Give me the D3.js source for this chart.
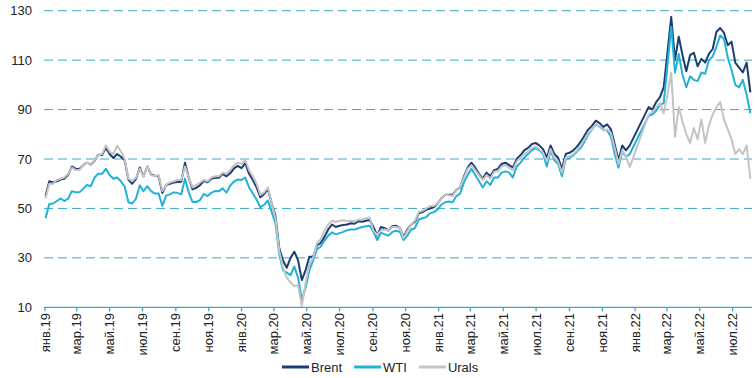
<!DOCTYPE html>
<html><head><meta charset="utf-8">
<script src="https://cdn.jsdelivr.net/npm/d3@7"></script>
<style>
body{margin:0;background:#fff}
svg{display:block}
text{font-family:"Liberation Sans",Arial,sans-serif}
</style>
</head><body><svg id="c" width="756" height="378"></svg>
<script>
// weekly observations starting from this date (null = no data)
const startDate = "2019-01-02";

const brent = [
55, 61, 60.5, 61, 61.7, 62, 63.6, 67, 66, 66,
67.5, 68.5, 67.8, 69.3, 71.7, 71.6, 74.5, 72, 70.4, 72,
70.9, 69.5, 61.6, 60, 62, 66.5, 63, 67, 63.7, 63.2,
63, 56.2, 59.5, 60, 60.5, 60.7, 60.8, 68.5, 62.4, 57.7,
58.3, 59.4, 61.2, 60.6, 62, 62.4, 62.4, 64, 63, 64.2,
66.2, 67.2, 66.3, 68.3, 64, 61.5, 58.5, 54.5, 55.8, 57.9,
52, 47, 34, 28.9, 26, 30, 32.5, 29, 21, 25,
30.5, 30.5, 35, 36, 38.5, 41.5, 43.5, 42.5, 43, 43.3,
43.5, 44, 43.8, 44.8, 44.6, 45, 45.3, 42.5, 39, 42.5,
42, 41, 42.8, 43, 42, 38.5, 41.5, 43.5, 44.5, 48,
48.5, 49.5, 50, 50.5, 52, 54, 55.5, 55.5, 55.5, 57.5,
58.5, 63, 66.5, 68.5, 66.5, 64, 62, 64.5, 63, 65.5,
66, 68, 68.5, 67.5, 66.5, 70, 71.5, 73.5, 74.5, 76,
76.5, 75.5, 74, 70.5, 75.5, 72, 70.5, 66, 72, 72.5,
73.5, 75, 77, 79.5, 82, 83.5, 85.5, 84.5, 83, 84,
82, 76, 69.5, 75.5, 73.5, 75.5, null, null, null, null,
91, 90, 93, 95, 99, 113, 127.5, 110, 119.5, 112,
105.5, 112, 113, 107.5, 110.5, 109, 112.5, 114.5, 121.5, 123,
121, 116, 117.5, 109, 107, 105, 109, 97
];

const wti = [
46, 51.8, 52, 53, 54, 53, 54, 57, 56.5, 56.5,
58, 59.5, 59, 62.5, 64, 64, 66, 63.5, 62, 62.5,
61, 58.8, 52.5, 52, 54, 59.4, 57, 59, 57, 56,
56, 51, 55.2, 55.7, 56.5, 56.3, 55.7, 62, 56.5, 52.6,
52.6, 53.4, 55.9, 55, 56.3, 57.1, 57, 58.1, 56.4, 59.2,
60.9, 61.7, 61.5, 62.5, 58.5, 56, 53.5, 50.5, 51.5, 53.2,
48.5, 44, 31.5, 25, 24, 23, 26.5, 22, 13, 18,
25, 29, 33.5, 34.5, 37, 39, 40.3, 39.5, 40, 40.5,
41.2, 41.5, 41.5, 42, 42.5, 42.8, 43, 40.5, 37.2, 40.2,
39.5, 39, 40.5, 41, 40.5, 37.2, 39, 41.5, 42, 45.5,
46, 46.5, 48, 48.5, 49.5, 51.5, 52.5, 52.8, 52.5, 55,
56, 60.5, 63.5, 66, 63.5, 61, 58.5, 61, 59.5, 62.5,
62.5, 64.5, 65, 64.5, 62.5, 67, 68.5, 70.5, 72, 73.5,
74.5, 73.5, 72, 67, 73.5, 69.5, 68, 63, 70, 70.5,
71.5, 73, 74.5, 77, 80, 82, 84, 83, 82, 81.5,
79, 72, 66.5, 73, 71, 72, null, null, null, null,
87.5, 88, 89.5, 92, 92.5, 108, 123.5, 105, 112.5, 104,
99, 103.5, 102, 101.5, 105, 104.5, 110, 111.5, 115.5, 120,
118.5, 111, 106, 100, 99, 102, 96, 88.5
];

const urals = [
54, 60, 60, 61.5, 62, 62.5, 64, 66.5, 65.5, 65.5,
67.5, 68.5, 68, 69.5, 71.5, 72, 75.5, 73, 72, 75.4,
73, 70, 62, 61, 62.5, 66, 63, 67, 63.5, 63,
63.5, 57, 59.5, 60.5, 61, 61.5, 61.5, 67, 62.5, 58.5,
59.5, 60.5, 61.5, 61, 62.5, 63, 63, 64.5, 64, 65.5,
67.5, 68.5, 68, 69.5, 65.5, 63, 60, 55.5, 56.5, 58.5,
52, 46, 33, 26, 22, 20, 18.5, 19, 10.5, 20,
27.5, 30, 36, 37.5, 41, 43.5, 45, 44.5, 45, 45.2,
44.8, 45, 44.8, 45.5, 45.5, 46, 46.3, 41, 39.2, 41.2,
41.5, 41, 42.5, 42.5, 42, 38, 41, 43.5, 45, 48.5,
49, 50, 51, 51, 52, 54, 55.5, 55.3, 55, 57.5,
58.8, 62.5, 66, 67.5, 65.5, 63.5, 61.5, 63.5, 62, 64.8,
65, 67, 67.5, 66.5, 65.5, 69, 70.5, 72, 73, 74.5,
75, 74, 72.5, 69, 74, 70.5, 69, 64.5, 70.5, 71,
72, 73.5, 75.5, 78, 80.5, 82, 84, 83, 81.5, 82,
80.5, 74.5, 68, 73.5, 71, 66.7, null, null, null, null,
88, 89, 91, 92.5, 88.5, 96, 105, 79, 91, 85,
80, 76.5, 82.5, 78, 86, 76.5, 83.5, 88, 91, 93,
86, 82, 78, 72, 74, 72, 75.5, 62
];

const tickLabels = [
"янв.19","мар.19","май.19","июл.19","сен.19","ноя.19",
"янв.20","мар.20","май.20","июл.20","сен.20","ноя.20",
"янв.21","мар.21","май.21","июл.21","сен.21","ноя.21",
"янв.22","мар.22","май.22","июл.22"
];
const yTicks = [10, 30, 50, 70, 90, 110, 130];
const seriesNames = ["Brent", "WTI", "Urals"];
const seriesColors = ["#1b3e72", "#22b2d8", "#c4c4c6"];

const svg = d3.select("#c");
const x = d3.scaleTime()
  .domain([new Date(2019, 0, 1), new Date(2022, 7, 6)])
  .range([45, 752]);
const y = d3.scaleLinear().domain([10, 130]).range([307.3, 10.7]);
const gridColor = "#3aa9be";

const t0 = d3.timeParse("%Y-%m-%d")(startDate);
const dates = brent.map((_, i) => d3.timeDay.offset(t0, 7 * i));

// gridlines
svg.append("g").selectAll("line").data(yTicks.filter(v => v !== 10)).join("line")
  .attr("x1", 44).attr("x2", 752)
  .attr("y1", d => y(d)).attr("y2", d => y(d))
  .attr("stroke", gridColor).attr("stroke-width", 1)
  .attr("stroke-dasharray", "9,5");

// y labels
svg.append("g").selectAll("text").data(yTicks).join("text")
  .attr("x", 32).attr("y", d => y(d)).attr("dy", "0.35em")
  .attr("text-anchor", "end").attr("font-size", 13).attr("fill", "#222")
  .text(d => d);

// x axis
const tickDates = d3.timeMonth.every(2).range(new Date(2019, 0, 1), new Date(2022, 7, 1));
svg.append("line").attr("x1", 44).attr("x2", 752)
  .attr("y1", y(10)).attr("y2", y(10))
  .attr("stroke", gridColor).attr("stroke-width", 1.3);
const xt = svg.append("g").selectAll("g").data(tickDates).join("g")
  .attr("transform", d => `translate(${x(d)},0)`);
xt.append("line").attr("y1", y(10)).attr("y2", y(10) + 4)
  .attr("stroke", gridColor).attr("stroke-width", 1.3);
xt.append("text")
  .attr("transform", "translate(0,313) rotate(-90)")
  .attr("dy", "0.35em").attr("text-anchor", "end")
  .attr("font-size", 13).attr("fill", "#222")
  .text((d, i) => tickLabels[i]);

// series
const allSeries = [brent, wti, urals];
const line = d3.line().x(d => x(d.date)).y(d => y(d.v)).curve(d3.curveLinear);
allSeries.forEach((s, si) => {
  const pts = s.map((v, i) => ({date: dates[i], v})).filter(p => p.v !== null);
  svg.append("path").datum(pts)
    .attr("fill", "none").attr("stroke", seriesColors[si])
    .attr("stroke-width", 2).attr("stroke-linejoin", "round")
    .attr("d", line);
});

// legend
const lg = svg.append("g");
let lx = 282;
const ly = 367;
seriesNames.forEach((n, i) => {
  lg.append("line").attr("x1", lx).attr("x2", lx + 27).attr("y1", ly).attr("y2", ly)
    .attr("stroke", seriesColors[i]).attr("stroke-width", 3);
  const t = lg.append("text").attr("x", lx + 29).attr("y", ly).attr("dy", "0.35em")
    .attr("font-size", 13).attr("fill", "#222").text(n);
  lx += 29 + t.node().getComputedTextLength() + 12;
});
</script>
</body></html>
